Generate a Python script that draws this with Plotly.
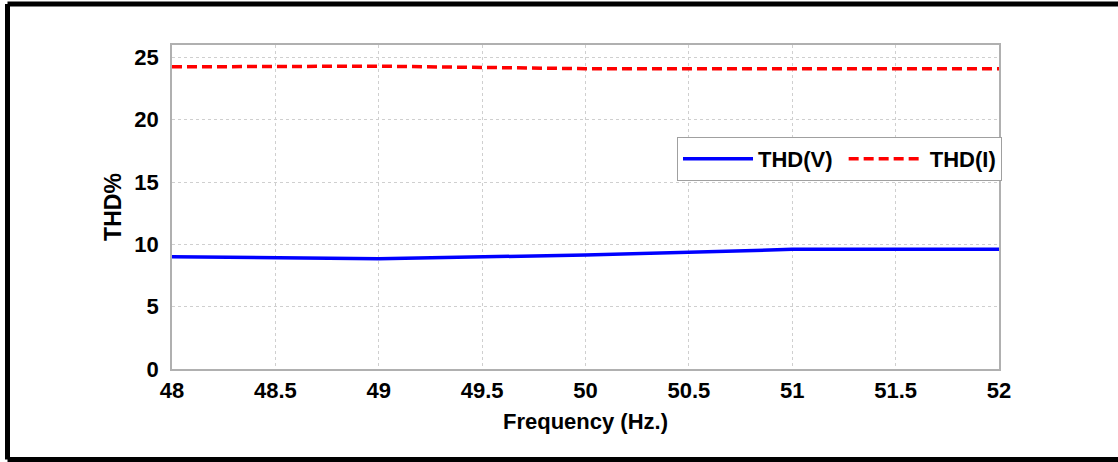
import plotly.graph_objects as go

# Frequency sweep (Hz) and measured total harmonic distortion (%)
frequency = [48, 49, 50, 51, 52]
thd_v = [9.0, 8.85, 9.15, 9.6, 9.6]
thd_i = [24.25, 24.3, 24.1, 24.1, 24.1]

x_ticks = [48, 48.5, 49, 49.5, 50, 50.5, 51, 51.5, 52]
y_ticks = [0, 5, 10, 15, 20, 25]

FONT = "Liberation Sans, Arial, sans-serif"

fig = go.Figure()
fig.add_trace(go.Scatter(
    x=frequency, y=thd_v, mode="lines", name="THD(V)\u00a0",
    line=dict(color="#0000ff", width=3.5),
))
fig.add_trace(go.Scatter(
    x=frequency, y=thd_i, mode="lines", name="\u00a0THD(I)",
    line=dict(color="#ff0000", width=3.5, dash="10px,5px"),
))

L, R, T, B = 172, 119, 45, 93
W, H = 1118, 462
pw, ph = W - L - R, H - T - B

def px_x(p):
    return (p - L) / pw

def px_y(p):
    return (H - B - p) / ph

# Outer black frame around the figure
frame = dict(type="line", xref="paper", yref="paper",
             line=dict(color="black", width=5), layer="above")
shapes = [
    dict(frame, x0=px_x(7.5), x1=px_x(1130), y0=px_y(4), y1=px_y(4)),
    dict(frame, x0=px_x(7.5), x1=px_x(7.5), y0=px_y(4), y1=px_y(459.5)),
    dict(frame, x0=px_x(7.5), x1=px_x(1130), y0=px_y(459.5), y1=px_y(459.5)),
]

axis_common = dict(
    showgrid=True, gridcolor="#cfcfcf", griddash="dot", gridwidth=1,
    showline=True, linecolor="#b0b0b0", linewidth=1.5, mirror=True,
    zeroline=False, ticks="",
    tickfont=dict(family=FONT, size=22, color="black", weight="bold"),
)

fig.update_layout(
    width=W, height=H,
    margin=dict(l=L, r=R, t=T, b=B),
    paper_bgcolor="white", plot_bgcolor="white",
    showlegend=True,
    legend=dict(
        orientation="h", x=px_x(677), y=px_y(137), xanchor="left", yanchor="top",
        bgcolor="white", bordercolor="#a0a0a0", borderwidth=1,
        font=dict(family=FONT, size=22, color="black", weight="bold"),
        itemwidth=70,
    ),
    xaxis=dict(
        axis_common, range=[48, 52], tickvals=x_ticks,
        ticktext=[f"{v:g}" for v in x_ticks], ticklabelstandoff=1,
        title=dict(text="Frequency (Hz.)", standoff=11,
                   font=dict(family=FONT, size=22, color="black", weight="bold")),
    ),
    yaxis=dict(
        axis_common, range=[0, 26], tickvals=y_ticks, ticklabelstandoff=7,
        title=dict(text="THD%", standoff=6,
                   font=dict(family=FONT, size=23, color="black", weight="bold")),
    ),
    shapes=shapes,
)

fig.write_html("out.html")
